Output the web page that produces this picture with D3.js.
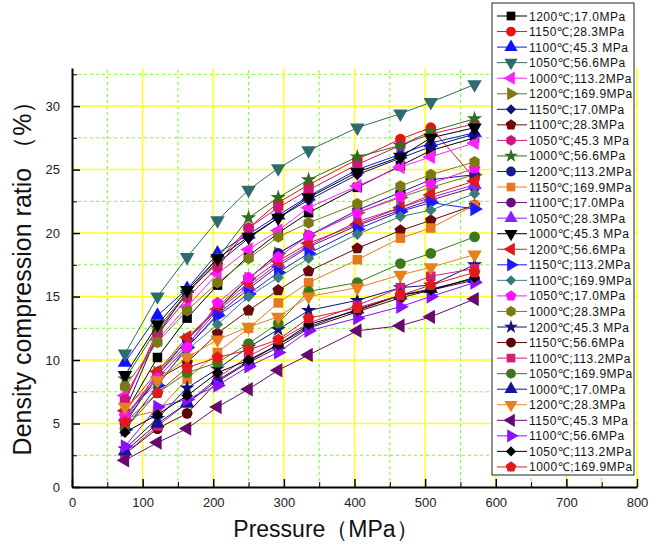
<!DOCTYPE html>
<html>
<head>
<meta charset="utf-8">
<script src="https://cdn.jsdelivr.net/npm/d3@7"></script>
<style>
  body { margin: 0; background: #fff; }
  svg { font-family: Arial, "Liberation Sans", sans-serif; }
</style>
</head>
<body>
<svg width="649" height="551"></svg>
<script>
// pressure steps (MPa) shared by all series
const pressure = [75, 121, 163, 206, 250, 292, 335, 404, 465, 508, 570];

const labels = [
  "1200℃;17.0MPa", "1150℃;28.3MPa", "1100℃;45.3 MPa", "1050℃;56.6MPa", "1000℃;113.2MPa",
  "1200℃;169.9MPa", "1150℃;17.0MPa", "1100℃;28.3MPa", "1050℃;45.3 MPa", "1000℃;56.6MPa",
  "1200℃;113.2MPa", "1150℃;169.9MPa", "1100℃;17.0MPa", "1050℃;28.3MPa", "1000℃;45.3 MPa",
  "1200℃;56.6MPa", "1150℃;113.2MPa", "1100℃;169.9MPa", "1050℃;17.0MPa", "1000℃;28.3MPa",
  "1200℃;45.3 MPa", "1150℃;56.6MPa", "1100℃;113.2MPa", "1050℃;169.9MPa", "1000℃;17.0MPa",
  "1200℃;28.3MPa", "1150℃;45.3 MPa", "1100℃;56.6MPa", "1050℃;113.2MPa", "1000℃;169.9MPa"
];

const colors = [
  "#000000", "#ee1111", "#1111ff", "#2f6b6b", "#ff22ff",
  "#7a7a10", "#10107a", "#6a0a0a", "#d0157a", "#2e6e1e",
  "#1a1a90", "#e8781e", "#65107a", "#8a22ff", "#000000",
  "#dd1a1a", "#1a1aff", "#3a7a7a", "#ff10ff", "#7a7a10",
  "#12127a", "#5a0606", "#d0207a", "#3a7a1a", "#14149a",
  "#e8801e", "#660a70", "#8a10ff", "#000000", "#e01a1a"
];

// Origin symbol cycle
const shapes = ["square", "circle", "up", "down", "left", "right", "diamond", "pentagon", "hexagon", "star", "circle"];

// density compression ratio (%) for each series
const ratio = [
  [5.8, 10.2, 13.3, 15.9, 18.2, 20.0, 21.6, 23.6, 25.3, 26.5, 27.5], // 1200;17.0
  [6.7, 12.3, 15.2, 17.8, 20.4, 22.4, 23.8, 25.8, 27.4, 28.3, 24.3], // 1150;28.3
  [9.8, 13.5, 15.6, 18.4, 19.9, 21.4, 22.9, 25.0, 26.2, 27.1, 27.9], // 1100;45.3
  [10.5, 15.0, 18.1, 21.0, 23.4, 25.1, 26.5, 28.3, 29.4, 30.3, 31.7], // 1050;56.6
  [7.2, 11.6, 14.2, 16.8, 18.7, 20.2, 22.0, 23.7, 25.2, 26.0, 27.1], // 1000;113.2
  [5.3, 9.0, 11.6, 14.2, 16.4, 18.4, 19.8, 21.6, 22.8, 23.6, 24.6], // 1200;169.9
  [6.0, 12.0, 15.4, 17.6, 19.6, 21.2, 22.6, 24.6, 25.9, 26.8, 27.8], // 1150;17.0
  [5.6, 8.5, 9.8, 12.1, 13.9, 15.5, 17.0, 18.8, 20.2, 21.0, 22.2], // 1100;28.3
  [6.9, 12.0, 14.9, 17.3, 20.4, 22.0, 23.4, 25.4, 26.9, 27.8, 28.6], // 1050;45.3
  [8.5, 12.5, 15.3, 18.0, 21.2, 22.8, 24.2, 26.0, 26.9, 28.0, 29.0], // 1000;56.6
  [5.0, 8.8, 11.6, 14.0, 16.4, 18.4, 19.8, 21.8, 23.2, 24.2, 24.6], // 1200;113.2
  [5.4, 6.0, 8.5, 10.6, 12.5, 14.5, 16.1, 17.9, 19.6, 20.4, 22.2], // 1150;169.9
  [5.2, 8.6, 11.0, 13.6, 15.6, 17.4, 18.9, 20.6, 21.8, 22.6, 23.6], // 1100;17.0
  [5.5, 8.9, 11.2, 13.9, 15.8, 17.6, 19.0, 20.9, 22.0, 22.8, 23.8], // 1050;28.3
  [8.8, 12.8, 15.5, 18.0, 19.7, 21.2, 22.8, 24.8, 26.0, 27.5, 28.3], // 1000;45.3
  [6.0, 9.1, 11.8, 14.0, 16.1, 17.8, 19.2, 20.7, 22.0, 23.0, 24.1], // 1200;56.6
  [4.5, 8.0, 11.0, 13.5, 15.2, 16.9, 18.4, 20.3, 21.7, 22.4, 21.9], // 1150;113.2
  [5.7, 8.2, 10.8, 12.8, 15.0, 16.5, 18.0, 19.9, 21.3, 21.8, 23.1], // 1100;169.9
  [5.6, 8.6, 11.0, 14.5, 16.5, 18.1, 19.8, 21.6, 22.9, 23.9, 25.1], // 1050;17.0
  [7.9, 11.4, 13.9, 16.1, 18.0, 19.7, 20.8, 22.3, 23.7, 24.6, 25.6], // 1000;28.3
  [3.0, 5.4, 7.8, 9.3, 11.0, 12.4, 13.9, 14.7, 15.7, 15.9, 17.5], // 1200;45.3
  [2.6, 4.6, 5.8, 8.3, 9.8, 11.0, 12.5, 13.8, 14.9, 15.5, 16.3], // 1150;56.6
  [2.6, 4.8, 6.6, 8.6, 10.3, 11.5, 12.9, 14.3, 15.7, 16.6, 17.2], // 1100;113.2
  [4.6, 7.4, 9.0, 9.8, 11.3, 12.9, 15.4, 16.1, 17.6, 18.4, 19.7], // 1050;169.9
  [2.8, 5.0, 6.6, 8.4, 9.9, 11.2, 12.6, 14.0, 15.1, 15.6, 16.4], // 1000;17.0
  [6.3, 8.4, 10.2, 11.6, 12.6, 13.4, 15.0, 15.7, 16.7, 17.3, 18.3], // 1200;28.3
  [2.1, 3.5, 4.6, 6.3, 7.7, 9.2, 10.4, 12.3, 12.7, 13.4, 14.8], // 1150;45.3
  [3.2, 6.3, 6.9, 8.0, 9.5, 10.6, 12.3, 13.3, 14.2, 15.0, 16.1], // 1100;56.6
  [4.3, 5.7, 7.2, 9.0, 10.0, 11.2, 12.8, 13.9, 15.1, 15.5, 16.5], // 1050;113.2
  [5.1, 7.4, 9.4, 10.2, 10.8, 11.6, 13.3, 14.1, 15.1, 15.9, 16.9]  // 1000;169.9
];

const xTicks = [0, 100, 200, 300, 400, 500, 600, 700, 800];
const yTicks = [0, 5, 10, 15, 20, 25, 30];

const svg = d3.select("svg");
const margin = {left: 72, right: 637, top: 68, bottom: 487};

const x = d3.scaleLinear().domain([0, 800]).range([margin.left, margin.right]);
const y = d3.scaleLinear().domain([0, 33]).range([margin.bottom, margin.top]);

// regular polygon symbol (point up)
function polygon(n) {
  return {
    draw: function(ctx, size) {
      const r = Math.sqrt(size / (n / 2 * Math.sin(2 * Math.PI / n)));
      for (let i = 0; i < n; i++) {
        const a = -Math.PI / 2 + i * 2 * Math.PI / n;
        if (i === 0) ctx.moveTo(r * Math.cos(a), r * Math.sin(a));
        else ctx.lineTo(r * Math.cos(a), r * Math.sin(a));
      }
      ctx.closePath();
    }
  };
}

function symbolPath(shape, size) {
  let type = d3.symbolCircle;
  if (shape === "square") type = d3.symbolSquare;
  else if (shape === "up" || shape === "down" || shape === "left" || shape === "right") type = d3.symbolTriangle;
  else if (shape === "diamond") type = d3.symbolDiamond2;
  else if (shape === "pentagon") type = polygon(5);
  else if (shape === "hexagon") type = polygon(6);
  else if (shape === "star") type = d3.symbolStar;
  if (shape === "diamond") size = size * 0.9;
  if (shape === "star") size = size * 0.8;
  return d3.symbol().type(type).size(size)();
}

function rot(shape) {
  if (shape === "down") return 180;
  if (shape === "left") return -90;
  if (shape === "right") return 90;
  return 0;
}

// grid
const grid = svg.append("g");
d3.range(50, 800, 100).forEach(function(v) {
  grid.append("line").attr("x1", x(v)).attr("x2", x(v)).attr("y1", y(0)).attr("y2", y(33))
    .attr("stroke", "#77ff22").attr("stroke-width", 1).attr("stroke-dasharray", "3,3");
});
d3.range(2.5, 33, 5).forEach(function(v) {
  grid.append("line").attr("x1", x(0)).attr("x2", x(800)).attr("y1", y(v)).attr("y2", y(v))
    .attr("stroke", "#77ff22").attr("stroke-width", 1).attr("stroke-dasharray", "3,3");
});
xTicks.slice(1).forEach(function(v) {
  grid.append("line").attr("x1", x(v)).attr("x2", x(v)).attr("y1", y(0)).attr("y2", y(33))
    .attr("stroke", "#ffff22").attr("stroke-width", 1.5);
});
yTicks.slice(1).forEach(function(v) {
  grid.append("line").attr("x1", x(0)).attr("x2", x(800)).attr("y1", y(v)).attr("y2", y(v))
    .attr("stroke", "#ffff22").attr("stroke-width", 1.5);
});

// series
const line = d3.line().x(function(d) { return x(d[0]); }).y(function(d) { return y(d[1]); });
const plot = svg.append("g");
ratio.forEach(function(vals, i) {
  const pts = vals.map(function(v, j) { return [pressure[j], v]; });
  const shape = shapes[i % 11];
  const g = plot.append("g");
  g.append("path").attr("d", line(pts)).attr("fill", "none")
    .attr("stroke", colors[i]).attr("stroke-width", 1);
  g.selectAll("path.m").data(pts).enter().append("path")
    .attr("class", "m")
    .attr("d", symbolPath(shape, 90))
    .attr("transform", function(d) { return "translate(" + x(d[0]) + "," + y(d[1]) + ") rotate(" + rot(shape) + ")"; })
    .attr("fill", colors[i]);
});

// axes
const xAxis = svg.append("g").attr("transform", "translate(0," + margin.bottom + ")")
  .call(d3.axisBottom(x).tickValues(xTicks).tickSize(-8).tickPadding(11).tickSizeOuter(0));
xAxis.select(".domain").attr("stroke-width", 2);
xAxis.selectAll(".tick line").attr("stroke-width", 1.5);
xAxis.selectAll("text").attr("font-size", 13).attr("fill", "#222");
svg.append("g").attr("transform", "translate(0," + margin.bottom + ")")
  .call(d3.axisBottom(x).tickValues(d3.range(50, 800, 100)).tickSize(-5).tickFormat("").tickSizeOuter(0))
  .select(".domain").remove();

const yAxis = svg.append("g").attr("transform", "translate(" + margin.left + ",0)")
  .call(d3.axisLeft(y).tickValues(yTicks).tickSize(-8).tickPadding(12).tickSizeOuter(0));
yAxis.select(".domain").attr("stroke-width", 2);
yAxis.selectAll(".tick line").attr("stroke-width", 1.5);
yAxis.selectAll("text").attr("font-size", 13).attr("fill", "#222");
svg.append("g").attr("transform", "translate(" + margin.left + ",0)")
  .call(d3.axisLeft(y).tickValues(d3.range(2.5, 33, 5)).tickSize(-5).tickFormat("").tickSizeOuter(0))
  .select(".domain").remove();

// axis titles
svg.append("text").attr("x", 326).attr("y", 537).attr("text-anchor", "middle")
  .attr("font-size", 23).attr("fill", "#111").text("Pressure（MPa）");
svg.append("text").attr("transform", "translate(31,272) rotate(-90)").attr("text-anchor", "middle")
  .attr("font-size", 25).attr("fill", "#111").text("Density compression ratio （%）");

// legend
const lg = svg.append("g");
lg.append("rect").attr("x", 492).attr("y", 3).attr("width", 142).attr("height", 472)
  .attr("fill", "#fff").attr("stroke", "#222").attr("stroke-width", 1);
labels.forEach(function(lab, i) {
  const cy = 16 + i * 15.55;
  const shape = shapes[i % 11];
  lg.append("line").attr("x1", 497).attr("x2", 527).attr("y1", cy).attr("y2", cy)
    .attr("stroke", colors[i]).attr("stroke-width", 1);
  lg.append("path").attr("d", symbolPath(shape, 75))
    .attr("transform", "translate(511," + cy + ") rotate(" + rot(shape) + ")")
    .attr("fill", colors[i]);
  lg.append("text").attr("x", 529).attr("y", cy + 4.5).attr("font-size", 12)
    .attr("letter-spacing", "0.5px").attr("fill", "#111").text(lab);
});
</script>
</body>
</html>
